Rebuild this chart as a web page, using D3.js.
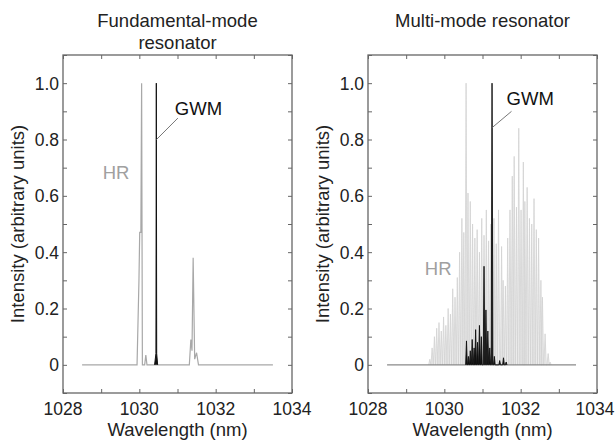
<!DOCTYPE html>
<html>
<head>
<meta charset="utf-8">
<script src="https://cdn.jsdelivr.net/npm/d3@7"></script>
<style>
  body { margin: 0; background: #fff; }
  text { font-family: "Liberation Sans", Arial, sans-serif; }
</style>
</head>
<body>
<script>
// spectra: [wavelength nm, intensity]

var xTicks = [1028, 1030, 1032, 1034];
var yTicks = [0, 0.2, 0.4, 0.6, 0.8, 1.0];
var yTickLabels = ["0", "0.2", "0.4", "0.6", "0.8", "1.0"];

// left panel, fundamental mode
var hrFund = [
  [1028.5, 0], [1029.94, 0], [1029.99, 0.3], [1030.01, 0.47], [1030.04, 0.47],
  [1030.06, 1.0], [1030.08, 0], [1030.14, 0], [1030.17, 0.035], [1030.2, 0],
  [1031.31, 0], [1031.35, 0.09], [1031.38, 0.05], [1031.41, 0.38], [1031.45, 0.02],
  [1031.5, 0.043], [1031.55, 0], [1033.5, 0]
];
var gwmFund = [
  [1030.40, 0], [1030.435, 0.04], [1030.445, 1.0], [1030.455, 0.04], [1030.48, 0]
];

// right panel, multi-mode: comb lines
var hrMulti = [
  [1029.62, 0.02], [1029.68, 0.06], [1029.74, 0.10], [1029.80, 0.13], [1029.86, 0.15],
  [1029.92, 0.12], [1029.98, 0.17], [1030.04, 0.14], [1030.10, 0.20], [1030.16, 0.18],
  [1030.22, 0.27], [1030.28, 0.24], [1030.34, 0.31], [1030.40, 0.40], [1030.46, 0.52],
  [1030.51, 0.47], [1030.57, 1.00], [1030.62, 0.61], [1030.68, 0.58], [1030.74, 0.50],
  [1030.80, 0.45], [1030.86, 0.48], [1030.92, 0.40], [1030.98, 0.52], [1031.04, 0.46],
  [1031.10, 0.55], [1031.16, 0.44], [1031.22, 0.50], [1031.30, 0.52], [1031.36, 0.43],
  [1031.42, 0.55], [1031.50, 0.42], [1031.54, 0.30], [1031.60, 0.28], [1031.66, 0.45],
  [1031.72, 0.55], [1031.78, 0.67], [1031.83, 0.74], [1031.89, 0.56], [1031.95, 0.84],
  [1032.01, 0.55], [1032.07, 0.72], [1032.11, 0.58], [1032.17, 0.63], [1032.23, 0.52],
  [1032.29, 0.50], [1032.35, 0.59], [1032.41, 0.48], [1032.47, 0.45], [1032.53, 0.30],
  [1032.57, 0.24], [1032.64, 0.11], [1032.72, 0.04], [1032.77, 0.01]
];
var gwmMulti = [
  [1030.58, 0.085], [1030.63, 0.03], [1030.68, 0.05], [1030.73, 0.09], [1030.78, 0.06],
  [1030.82, 0.125], [1030.87, 0.08], [1030.92, 0.14], [1030.97, 0.10], [1031.04, 0.35],
  [1031.09, 0.195], [1031.14, 0.12], [1031.19, 0.06], [1031.25, 1.00], [1031.31, 0.03],
  [1031.45, 0.015], [1031.55, 0.025], [1031.62, 0.01]
];
var baseMulti = [[1028.5, 0], [1033.45, 0]];

var W = 615, H = 440;
var pw = 229, ph = 338, topM = 55;
var fs = "18.5px";
var tfs = "17.5px";

var svg = d3.select("body").append("svg")
  .attr("width", W)
  .attr("height", H);

var x = d3.scaleLinear().domain([1028, 1034]).range([0, pw]);
var y = d3.scaleLinear().domain([-0.1, 1.1]).range([ph, 0]);

var line = d3.line()
  .x(function (d) { return x(d[0]); })
  .y(function (d) { return y(d[1]); });

// turn a list of peaks into little spikes
var spikes = function (peaks, w) {
  var pts = [];
  peaks.forEach(function (p) {
    pts.push([p[0] - w, 0], [p[0], p[1]], [p[0] + w, 0]);
  });
  return pts;
};

var panel = function (left, title) {
  var g = svg.append("g").attr("transform", "translate(" + left + "," + topM + ")");

  g.append("g").selectAll("text")
    .data(title)
    .enter().append("text")
    .attr("x", pw / 2)
    .attr("y", function (d, i) { return -28 + i * 22; })
    .attr("text-anchor", "middle")
    .style("font-size", fs)
    .style("fill", "#222")
    .text(function (d) { return d; });

  var tickCol = "#666";
  // inward ticks on all sides
  var axB = d3.axisBottom(x).ticks(6).tickSize(-4).tickFormat("");
  var axT = d3.axisTop(x).ticks(6).tickSize(-4).tickFormat("");
  var axL = d3.axisLeft(y).ticks(12).tickSize(-4).tickFormat("");
  var axR = d3.axisRight(y).ticks(12).tickSize(-4).tickFormat("");
  g.append("g").attr("transform", "translate(0," + ph + ")").call(axB);
  g.append("g").call(axT);
  g.append("g").call(axL);
  g.append("g").attr("transform", "translate(" + pw + ",0)").call(axR);
  g.selectAll(".domain").remove();
  g.selectAll(".tick line").attr("stroke", tickCol).attr("stroke-width", 1);

  g.append("rect")
    .attr("width", pw).attr("height", ph)
    .attr("fill", "none").attr("stroke", tickCol).attr("stroke-width", 1.3);

  g.selectAll(".xl")
    .data(xTicks)
    .enter().append("text")
    .attr("x", function (d) { return Math.min(x(d), W - 1 - left - 19); })
    .attr("y", ph + 22)
    .attr("text-anchor", "middle")
    .style("font-size", tfs)
    .style("fill", "#222")
    .text(function (d) { return d; });

  g.selectAll(".yl")
    .data(yTicks)
    .enter().append("text")
    .attr("x", -4)
    .attr("y", function (d) { return y(d) + 6.5; })
    .attr("text-anchor", "end")
    .style("font-size", tfs)
    .style("fill", "#222")
    .text(function (d, i) { return yTickLabels[i]; });

  g.append("text")
    .attr("x", pw / 2)
    .attr("y", ph + 43)
    .attr("text-anchor", "middle")
    .style("font-size", fs)
    .style("fill", "#222")
    .text("Wavelength (nm)");

  g.append("text")
    .attr("transform", "translate(-39," + (ph / 2) + ") rotate(-90)")
    .attr("text-anchor", "middle")
    .style("font-size", fs)
    .style("fill", "#222")
    .text("Intensity (arbitrary units)");

  return g;
};

// left panel
var g1 = panel(63, ["Fundamental-mode", "resonator"]);

g1.append("path")
  .datum(hrFund)
  .attr("d", line)
  .attr("fill", "none")
  .attr("stroke", "#a8a8a8")
  .attr("stroke-width", 1.2);

g1.append("path")
  .datum(gwmFund)
  .attr("d", line)
  .attr("fill", "#111")
  .attr("stroke", "#111")
  .attr("stroke-width", 1);

g1.append("line")
  .attr("x1", x(1030.45)).attr("y1", y(0.8))
  .attr("x2", x(1031.01)).attr("y2", y(0.876))
  .attr("stroke", "#777").attr("stroke-width", 1);

g1.append("text")
  .attr("x", x(1030.93)).attr("y", y(0.887))
  .style("font-size", fs).style("fill", "#111")
  .text("GWM");

g1.append("text")
  .attr("x", x(1029.04)).attr("y", y(0.66))
  .style("font-size", fs).style("fill", "#a0a0a0")
  .text("HR");

// right panel
var g2 = panel(368, ["Multi-mode resonator"]);

g2.append("path")
  .datum(spikes(hrMulti, 0.03))
  .attr("d", line)
  .attr("fill", "#ececec")
  .attr("stroke", "#d2d2d2")
  .attr("stroke-width", 0.8);

g2.append("path")
  .datum(baseMulti)
  .attr("d", line)
  .attr("stroke", "#8a8a8a")
  .attr("stroke-width", 1.2);

g2.append("path")
  .datum(spikes(gwmMulti, 0.022))
  .attr("d", line)
  .attr("fill", "#111")
  .attr("stroke", "#111")
  .attr("stroke-width", 0.9);

g2.append("line")
  .attr("x1", x(1031.26)).attr("y1", y(0.843))
  .attr("x2", x(1031.76)).attr("y2", y(0.9))
  .attr("stroke", "#777").attr("stroke-width", 1);

g2.append("text")
  .attr("x", x(1031.63)).attr("y", y(0.924))
  .style("font-size", fs).style("fill", "#111")
  .text("GWM");

g2.append("text")
  .attr("x", x(1029.49)).attr("y", y(0.32))
  .style("font-size", fs).style("fill", "#a0a0a0")
  .text("HR");
</script>
</body>
</html>
